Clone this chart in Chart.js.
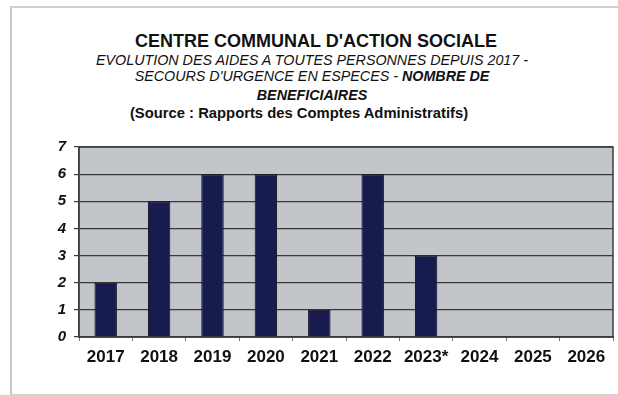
<!DOCTYPE html>
<html lang="fr">
<head>
  <meta charset="UTF-8" />
  <title>CCAS - Secours d'urgence en espèces</title>
  <script src="https://cdn.jsdelivr.net/npm/chart.js"></script>
  <style>
    html, body { margin: 0; padding: 0; background: #fff; }
    body { width: 618px; height: 395px; position: relative; overflow: hidden; font-family: "Liberation Sans", Arial, sans-serif; color: #111; }
    #cadre {
      position: absolute; left: 10px; top: 6px; width: 620px; height: 386px;
      border-left: 2px solid #c8c8c8; border-top: 2px solid #d0d0d0; border-bottom: 2px solid #d0d0d0;
    }
    .ligne { position: absolute; left: 3px; width: 618px; text-align: center; line-height: 1; white-space: nowrap; }
    #titre { top: 32px; font-size: 18px; font-weight: bold; left: 7px; }
    .sous { font-size: 14.3px; font-style: italic; }
    #l2 { top: 53px; }
    #l3 { top: 69px; }
    #l4 { top: 88px; font-weight: bold; }
    #source { top: 106px; font-size: 14.8px; font-weight: bold; left: -10px; }
    #zone { position: absolute; left: 0; top: 0; width: 618px; height: 395px; }
  </style>
</head>
<body>
  <div id="cadre"></div>
  <div class="ligne" id="titre">CENTRE COMMUNAL D'ACTION SOCIALE</div>
  <div class="ligne sous" id="l2">EVOLUTION DES AIDES A TOUTES PERSONNES DEPUIS 2017 -</div>
  <div class="ligne sous" id="l3">SECOURS D'URGENCE EN ESPECES - <b>NOMBRE DE</b></div>
  <div class="ligne sous" id="l4">BENEFICIAIRES</div>
  <div class="ligne" id="source">(Source : Rapports des Comptes Administratifs)</div>
  <div id="zone"><canvas id="graphe" width="618" height="395"></canvas></div>

  <script>
    // années et nombre de bénéficiaires
    const annees = ['2017', '2018', '2019', '2020', '2021', '2022', '2023*', '2024', '2025', '2026'];
    const beneficiaires = [2, 5, 6, 6, 1, 6, 3, null, null, null];
    const graduations = [0, 1, 2, 3, 4, 5, 6, 7];

    // fond gris et cadre de la zone de tracé
    const fondZone = {
      id: 'fondZone',
      beforeDraw(chart) {
        const { ctx, chartArea: a } = chart;
        ctx.save();
        ctx.fillStyle = '#c2c5c9';
        ctx.fillRect(a.left, a.top, a.right - a.left, a.bottom - a.top);
        ctx.restore();
      },
      afterDatasetsDraw(chart) {
        const { ctx, chartArea: a } = chart;
        ctx.save();
        ctx.strokeStyle = '#3c3c3c';
        ctx.lineWidth = 1.5;
        ctx.strokeRect(a.left, a.top, a.right - a.left, a.bottom - a.top);
        ctx.restore();
      }
    };

    new Chart(document.getElementById('graphe'), {
      type: 'bar',
      data: {
        labels: annees,
        datasets: [{
          data: beneficiaires,
          backgroundColor: '#171b4d',
          borderColor: '#0a0a1e',
          borderWidth: 1,
          categoryPercentage: 1,
          barPercentage: 0.42
        }]
      },
      options: {
        responsive: false,
        animation: false,
        layout: { padding: { top: 147, right: 5, left: 0, bottom: 0 } },
        plugins: { legend: { display: false }, tooltip: { enabled: false } },
        scales: {
          x: {
            offset: true,
            grid: { display: true, drawOnChartArea: false, tickLength: 4, color: '#777', offset: true },
            border: { display: true, color: '#333', width: 1.5 },
            ticks: { color: '#111', padding: 6, font: { family: 'Liberation Sans', size: 17, weight: 'bold' } },
            afterFit(s) { s.height = 58; }
          },
          y: {
            min: 0,
            max: 7,
            afterBuildTicks(s) { s.ticks = graduations.map(v => ({ value: v })); },
            grid: { color: '#383838', lineWidth: 1.2, tickLength: 5 },
            border: { display: true, color: '#444', width: 1.5 },
            ticks: { color: '#111', padding: 8, font: { family: 'Liberation Sans', size: 15, weight: 'bold', style: 'italic' } },
            afterFit(s) { s.width = 79; }
          }
        }
      },
      plugins: [fondZone]
    });
  </script>
</body>
</html>
